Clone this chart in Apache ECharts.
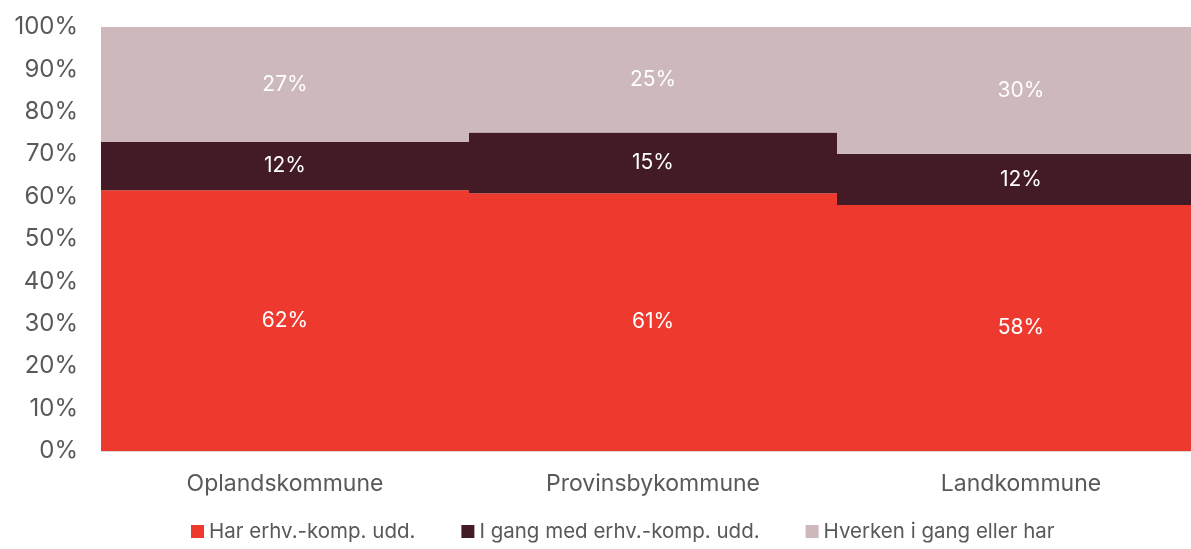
<!DOCTYPE html>
<html><head><meta charset="utf-8">
<script src="https://cdn.jsdelivr.net/npm/echarts@6/dist/echarts.min.js"></script>
<style>html,body{margin:0;padding:0;background:#fff}#c{width:1191px;height:549px}</style>
</head><body><div id="c"></div>
<script>
const categories = ['Oplandskommune', 'Provinsbykommune', 'Landkommune'];
const seriesNames = ['Har erhv.-komp. udd.', 'I gang med erhv.-komp. udd.', 'Hverken i gang eller har'];
const harValues = [61.5, 60.8, 58.0];
const iGangValues = [11.4, 14.3, 12.1];
const hverkenValues = [27.1, 24.9, 29.9];
const harLabels = ['62%', '61%', '58%'];
const iGangLabels = ['12%', '15%', '12%'];
const hverkenLabels = ['27%', '25%', '30%'];
const yTicks = [0, 10, 20, 30, 40, 50, 60, 70, 80, 90, 100];

const colors = ['#EE3A2E', '#421B26', '#CDB8BB'];
const font = 'Inter, "Noto Sans", sans-serif';
function mk(name, vals, labels, color) {
  return {
    name, type: 'bar', stack: 'a', data: vals, barCategoryGap: 0,
    itemStyle: { color, borderWidth: 0 },
    label: { show: true, position: 'inside', color: '#fff', fontSize: 21, fontFamily: font,
      formatter: p => labels[p.dataIndex] }
  };
}
const chart = echarts.init(document.getElementById('c'));
chart.setOption({
  animation: false,
  color: colors,
  grid: { left: 101, top: 27, width: 1104, height: 424, containLabel: false, outerBoundsMode: 'none' },
  legend: {
    bottom: 2, left: 186, itemWidth: 13, itemHeight: 13, itemGap: 46, icon: 'rect',
    textStyle: { color: '#595959', fontSize: 20.5, fontFamily: font },
    data: seriesNames
  },
  xAxis: {
    type: 'category', data: categories,
    axisLine: { show: false }, axisTick: { show: false }, splitLine: { show: false },
    axisLabel: { color: '#595959', fontSize: 23, fontFamily: font, margin: 22 }
  },
  yAxis: {
    type: 'value', min: yTicks[0], max: yTicks[yTicks.length - 1], interval: 10,
    axisLabel: { color: '#595959', fontSize: 24, fontFamily: font, margin: 23, formatter: v => v + '%' },
    splitLine: { lineStyle: { color: '#d9d9d9' } },
    axisLine: { show: false }, axisTick: { show: false }
  },
  series: [
    mk(seriesNames[0], harValues, harLabels, colors[0]),
    mk(seriesNames[1], iGangValues, iGangLabels, colors[1]),
    mk(seriesNames[2], hverkenValues, hverkenLabels, colors[2])
  ]
});
</script></body></html>
